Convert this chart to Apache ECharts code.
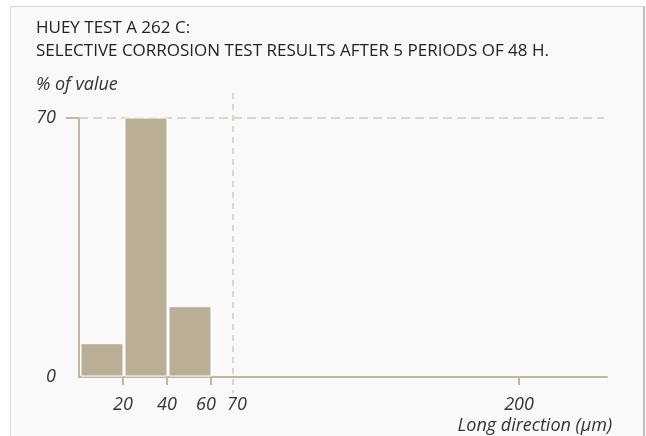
<!DOCTYPE html>
<html>
<head>
<meta charset="utf-8">
<script src="https://cdn.jsdelivr.net/npm/echarts@6/dist/echarts.min.js"></script>
<style>
  html, body { margin: 0; padding: 0; background: #ffffff; }
  #frame { position: absolute; left: 10px; top: 6px; width: 632px; height: 440px;
           background: #f9f9f9; border-left: 1px solid #dcdcdc; border-top: 1px solid #d6d6d6;
           border-right: 2px solid #bdbdbd; }
  #chart { position: absolute; left: 0; top: 0; width: 646px; height: 436px; }
</style>
</head>
<body>
<div id="frame"></div>
<div id="chart"></div>
<script>
// Data
const binStarts = [0, 20, 40];
const binEnds = [20, 40, 60];
const values = [9, 70, 19];
const xTickLabels = [20, 40, 60, 70, 200];
const xTickMarks = [20, 40, 60, 200];
const yTickLabels = [0, 70];
const refX = 70;
const refY = 70;
const titleLines = ['HUEY TEST A 262 C:', 'SELECTIVE CORROSION TEST RESULTS AFTER 5 PERIODS OF 48 H.'];
const yName = '% of value';
const xName = 'Long direction (µm)';

const FONT = '"Open Sans", sans-serif';
const barColor = '#b9af97';
const axisColor = '#c2b8a2';
const dashColor = '#d3ccbb';

const barData = binStarts.map((s, i) => [s, binEnds[i], values[i]]);
const lblStyle = { fontFamily: FONT, fontSize: 18, fontStyle: 'italic', color: '#333' };

const chart = echarts.init(document.getElementById('chart'), null, { renderer: 'canvas' });
chart.setOption({
  backgroundColor: 'transparent',
  animation: false,
  title: [
    { text: titleLines.join('\n'), left: 36, top: 17, padding: 0,
      textStyle: { fontFamily: FONT, fontSize: 17, fontWeight: 'normal', color: '#222', lineHeight: 23 } },
    { text: yName, left: 36, top: 76, padding: 0,
      textStyle: { fontFamily: FONT, fontSize: 18, fontWeight: 'normal', fontStyle: 'italic', color: '#333' } },
    { text: xName, right: 34, top: 417, padding: 0,
      textStyle: { fontFamily: FONT, fontSize: 18, fontWeight: 'normal', fontStyle: 'italic', color: '#333' } }
  ],
  grid: { left: 79, right: 39, top: 118, bottom: 59 },
  xAxis: {
    type: 'value', min: 0, max: 240,
    axisLine: { show: true, lineStyle: { color: axisColor, width: 2 } },
    axisTick: { show: true, customValues: xTickMarks, length: 8, lineStyle: { color: axisColor, width: 2 } },
    axisLabel: {
      customValues: xTickLabels, margin: 19,
      fontFamily: FONT, fontSize: 18, fontStyle: 'italic', color: '#333',
      formatter: function (v) {
        if (v === 60) return '{l|' + v + '}';
        if (v === refX) return '{r|' + v + '}';
        return '{n|' + v + '}';
      },
      rich: {
        n: lblStyle,
        l: Object.assign({ padding: [0, 10, 0, 0] }, lblStyle),
        r: Object.assign({ padding: [0, 0, 0, 8] }, lblStyle)
      }
    },
    splitLine: { show: false }
  },
  yAxis: {
    type: 'value', min: 0, max: 70,
    axisLine: { show: true, lineStyle: { color: axisColor, width: 2 } },
    axisTick: { show: true, customValues: [refY], length: 13, lineStyle: { color: axisColor, width: 2 } },
    axisLabel: { customValues: yTickLabels, margin: 23, fontFamily: FONT, fontSize: 18, fontStyle: 'italic', color: '#333' },
    splitLine: { show: false }
  },
  series: [
    {
      type: 'custom',
      data: barData,
      renderItem: function (params, api) {
        const p0 = api.coord([api.value(0), 0]);
        const p1 = api.coord([api.value(1), api.value(2)]);
        return {
          type: 'rect',
          shape: { x: p0[0] + 2, y: p1[1], width: p1[0] - p0[0] - 2, height: p0[1] - p1[1] - 1 },
          style: { fill: barColor, stroke: '#ffffff', lineWidth: 1 }
        };
      },
      z: 3
    },
    {
      type: 'custom',
      data: [[refX, refY]],
      renderItem: function (params, api) {
        const top = api.coord([api.value(0), api.value(1)]);
        const bot = api.coord([api.value(0), 0]);
        const left = api.coord([0, api.value(1)]);
        const right = api.coord([240, api.value(1)]);
        return {
          type: 'group',
          children: [
            { type: 'line', shape: { x1: top[0], y1: top[1] - 25, x2: bot[0], y2: bot[1] + 16 },
              style: { stroke: dashColor, lineWidth: 1.5, lineDash: [6, 5] } },
            { type: 'line', shape: { x1: left[0], y1: left[1], x2: right[0] - 3, y2: right[1] },
              style: { stroke: dashColor, lineWidth: 1.5, lineDash: [9, 5] } }
          ]
        };
      },
      z: 1
    }
  ]
});
</script>
</body>
</html>
